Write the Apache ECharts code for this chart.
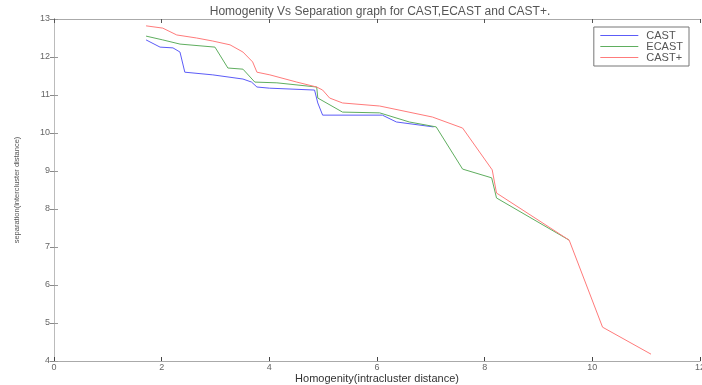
<!DOCTYPE html>
<html>
<head>
<meta charset="utf-8">
<script src="https://cdn.jsdelivr.net/npm/echarts@6/dist/echarts.min.js"></script>
<style>
  html, body { margin: 0; padding: 0; background: #fff; }
  #chart { width: 702px; height: 385px; }
</style>
</head>
<body>
<div id="chart"></div>
<script>
// values
const castX = [1.71, 1.97, 2.21, 2.34, 2.43, 2.95, 3.51, 3.67, 3.77, 4.0, 4.84, 4.9, 4.99, 6.1, 6.36, 7.05];
const castY = [12.45, 12.26, 12.24, 12.13, 11.6, 11.53, 11.42, 11.34, 11.21, 11.18, 11.13, 10.79, 10.47, 10.47, 10.29, 10.16];

const ecastX = [1.71, 2.02, 2.34, 2.99, 3.23, 3.51, 3.73, 4.14, 4.88, 4.9, 5.36, 6.05, 6.6, 7.1, 7.59, 8.13, 8.22, 9.57];
const ecastY = [12.55, 12.45, 12.34, 12.26, 11.71, 11.68, 11.34, 11.32, 11.21, 10.92, 10.55, 10.53, 10.29, 10.16, 9.05, 8.82, 8.29, 7.18];

const castPlusX = [1.71, 2.02, 2.28, 2.65, 2.95, 3.27, 3.51, 3.69, 3.77, 4.01, 4.51, 4.88, 4.99, 5.12, 5.36, 6.05, 7.03, 7.59, 8.14, 8.22, 9.57, 10.19, 11.09];
const castPlusY = [12.82, 12.76, 12.58, 12.5, 12.42, 12.32, 12.13, 11.87, 11.6, 11.53, 11.34, 11.21, 11.13, 10.92, 10.79, 10.71, 10.42, 10.13, 9.03, 8.42, 7.18, 4.89, 4.18];

const seriesNames = ['CAST', 'ECAST', 'CAST+'];
const seriesColors = ['#5c5cf8', '#5fae5f', '#ff7b7b'];

const zip = (xs, ys) => xs.map((x, i) => [x, ys[i]]);

const FONT = 'Liberation Sans';
const chart = echarts.init(document.getElementById('chart'));

const lineSeries = (name, data, i) => ({
  name: name,
  type: 'line',
  data: data,
  showSymbol: false,
  symbol: 'none',
  color: seriesColors[i],
  itemStyle: { color: seriesColors[i] },
  lineStyle: { width: 1, color: seriesColors[i] },
  z: 3 + i,
});

const options = {
  animation: false,
  backgroundColor: '#fff',
  title: {
    text: 'Homogenity Vs Separation graph for CAST,ECAST and CAST+.',
    left: 375,
    textAlign: 'center',
    top: 1,
    textStyle: { fontFamily: FONT, fontSize: 12, fontWeight: 'normal', color: '#555' },
  },
  legend: {
    right: 13,
    top: 27,
    orient: 'vertical',
    backgroundColor: '#fff',
    borderColor: '#777',
    borderWidth: 1,
    padding: [3, 6, 3, 6],
    itemGap: 0,
    itemWidth: 38,
    itemHeight: 12,
    data: seriesNames.map((n, i) => ({
      name: n,
      itemStyle: { opacity: 0 },
      lineStyle: { color: seriesColors[i], width: 1 },
    })),
    textStyle: { fontFamily: FONT, fontSize: 11, color: '#555', padding: [0, 0, 0, 3] },
  },
  grid: { left: 54, right: 2, top: 19, bottom: 24, containLabel: false, outerBoundsMode: 'none' },
  xAxis: [
    {
      type: 'value',
      min: 0,
      max: 12,
      interval: 2,
      name: 'Homogenity(intracluster distance)',
      nameLocation: 'middle',
      nameGap: 12,
      nameMoveOverlap: false,
      nameTextStyle: { fontFamily: FONT, fontSize: 11, color: '#333' },
      axisLine: { show: true, lineStyle: { color: '#aaa', width: 1 } },
      axisTick: { show: true, inside: true, length: 4, lineStyle: { color: '#444' } },
      axisLabel: { fontFamily: FONT, fontSize: 9, color: '#666', margin: 2 },
      splitLine: { show: false },
    },
    {
      type: 'value',
      position: 'top',
      min: 0,
      max: 12,
      interval: 2,
      axisLine: { show: true, lineStyle: { color: '#aaa', width: 1 } },
      axisTick: { show: true, inside: true, length: 4, lineStyle: { color: '#555' } },
      axisLabel: { show: false },
      splitLine: { show: false },
    },
  ],
  yAxis: [
    {
      type: 'value',
      min: 4,
      max: 13,
      interval: 1,
      name: 'separation(intercluster distance)',
      nameLocation: 'middle',
      nameGap: 33,
      nameMoveOverlap: false,
      nameTextStyle: { fontFamily: FONT, fontSize: 7.5, color: '#555' },
      axisLine: { show: true, lineStyle: { color: '#222', width: 1 } },
      axisTick: { show: true, inside: true, length: 4, lineStyle: { color: '#999' } },
      axisLabel: { fontFamily: FONT, fontSize: 9, color: '#666', margin: 4 },
      splitLine: { show: false },
    },
    {
      type: 'value',
      position: 'right',
      min: 4,
      max: 13,
      interval: 1,
      axisLine: { show: true, lineStyle: { color: '#bbb', width: 1 } },
      axisTick: { show: true, inside: true, length: 4, lineStyle: { color: '#888' } },
      axisLabel: { show: false },
      splitLine: { show: false },
    },
  ],
  series: [
    lineSeries(seriesNames[0], zip(castX, castY), 0),
    lineSeries(seriesNames[1], zip(ecastX, ecastY), 1),
    lineSeries(seriesNames[2], zip(castPlusX, castPlusY), 2),
  ],
};

chart.setOption(options);
</script>
</body>
</html>
